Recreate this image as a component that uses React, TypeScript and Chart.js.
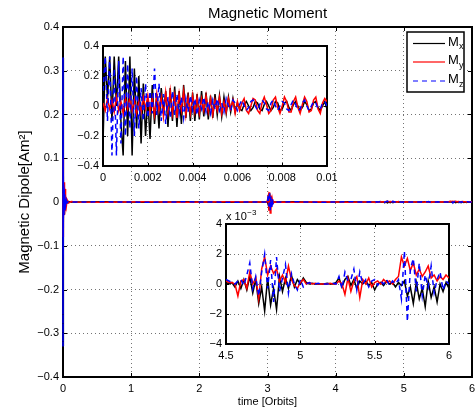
import { useEffect, useRef } from 'react';
import { Chart, registerables } from 'chart.js';

Chart.register(...registerables);

const FONT = '"Liberation Sans", Arial, Helvetica, sans-serif';
const GRID_COLOR = 'rgba(0,0,0,0.55)';

// ---------- Inset 1 : t = 0 .. 0.01 orbits, sampled every 0.0001 ----------
const INSET1_DT = 0.0001;
const INSET1_MX = [
  -0.25, 0.33, 0.05, 0.33, -0.1, 0.33, 0.0, 0.33, -0.1, -0.33,
  0.3, -0.2, 0.33, -0.33, 0.25, -0.15, 0.2, -0.25, 0.15, -0.2,
  0.05, -0.22, 0.14, -0.12, 0.08, -0.15, 0.12, -0.05, 0.1, -0.14,
  0.12, -0.1, 0.13, -0.14, 0.1, -0.12, 0.14, -0.08, 0.09, -0.1,
  0.09, -0.1, 0.08, -0.09, 0.1, -0.07, 0.09, -0.09, 0.07, -0.08,
  0.08, -0.06, 0.07, -0.07, 0.06, -0.05, 0.06, -0.04, 0.05, -0.04,
  0.02, -0.02, -0.03, 0.01, 0.03, 0.0, -0.03, -0.01, 0.03, 0.02,
  -0.02, -0.03, 0.01, 0.03, 0.0, -0.03, -0.01, 0.03, 0.02, -0.03,
  -0.02, 0.02, 0.03, -0.01, -0.03, 0.01, 0.03, 0.0, -0.03, -0.01,
  0.03, 0.01, -0.03, -0.02, 0.02, 0.03, -0.01, -0.03, 0.0, 0.03,
  -0.02,
];
const INSET1_MY = [
  0.02, -0.03, 0.05, -0.02, 0.04, -0.04, 0.06, -0.03, 0.03, -0.05,
  0.05, -0.02, 0.06, -0.03, 0.04, -0.05, 0.03, -0.04, 0.06, -0.02,
  0.07, -0.04, 0.05, -0.06, 0.08, -0.03, 0.06, -0.07, 0.09, -0.04,
  0.1, -0.05, 0.07, -0.08, 0.08, -0.03, 0.1, -0.06, 0.06, -0.05,
  0.07, -0.04, 0.06, -0.05, 0.05, -0.03, 0.07, -0.04, 0.05, -0.06,
  0.04, -0.03, 0.06, -0.05, 0.03, -0.04, 0.05, -0.02, 0.04, -0.05,
  0.03, -0.03, 0.02, 0.05, -0.03, -0.05, 0.0, 0.05, 0.04, -0.03,
  -0.05, 0.02, 0.06, 0.01, -0.05, -0.03, 0.04, 0.06, -0.01, -0.05,
  0.0, 0.06, 0.03, -0.04, -0.04, 0.03, 0.06, -0.01, -0.05, 0.01,
  0.06, 0.03, -0.04, -0.03, 0.04, 0.06, -0.02, -0.05, 0.02, 0.05,
  0.03,
];
const INSET1_MZ = [
  0.1, 0.33, -0.1, 0.33, -0.33, 0.25, -0.33, 0.3, -0.25, 0.33,
  -0.2, 0.28, -0.15, 0.25, -0.2, 0.2, -0.15, 0.12, -0.1, 0.15,
  -0.08, 0.1, -0.05, 0.25, -0.06, 0.15, -0.1, 0.08, -0.12, 0.06,
  -0.08, 0.1, -0.06, 0.08, -0.05, 0.06, -0.08, 0.05, -0.04, 0.07,
  -0.03, 0.05, -0.06, 0.04, -0.02, 0.06, -0.04, 0.03, -0.05, 0.04,
  -0.02, 0.05, -0.03, 0.02, -0.04, 0.05, 0.0, -0.03, 0.04, 0.02,
  -0.03, 0.01, 0.04, 0.0, -0.03, -0.01, 0.03, 0.04, 0.0, -0.03,
  0.01, 0.04, 0.02, -0.02, -0.03, 0.02, 0.04, 0.0, -0.03, 0.0,
  0.03, 0.02, -0.02, -0.03, 0.01, 0.04, 0.01, -0.03, -0.02, 0.02,
  0.04, 0.0, -0.03, 0.0, 0.03, 0.02, -0.02, -0.02, 0.02, 0.03,
  0.0,
];

// ---------- Main-only samples between the two insets ----------
const MAIN_T = [
  0.012, 0.015, 0.018, 0.022, 0.026, 0.03, 0.035, 0.04, 0.05, 0.06, 0.08, 0.12, 0.2,
  0.6, 1.2, 1.8, 2.4, 2.9,
  2.99, 3.0, 3.01, 3.02, 3.03, 3.04, 3.05, 3.06, 3.07, 3.08, 3.1,
  3.4, 3.8, 4.2, 4.4,
];
const MAIN_MX = [
  0.03, -0.025, 0.02, -0.02, 0.015, -0.01, 0.008, -0.005, 0.003, -0.002, 0.001, 0, 0,
  0.0005, -0.0005, 0.0005, -0.0005, 0,
  0, 0.002, -0.006, 0.008, -0.01, 0.006, -0.008, 0.004, -0.003, 0.001, 0,
  0.0005, -0.0005, 0.0005, 0,
];
const MAIN_MY = [
  -0.04, 0.045, -0.03, 0.04, -0.025, 0.03, -0.02, 0.015, -0.008, 0.005, -0.002, 0.001, 0,
  -0.0005, 0.0005, -0.0005, 0.0005, 0,
  0, 0.004, 0.012, -0.02, 0.022, -0.025, 0.015, -0.012, 0.006, -0.003, 0,
  -0.0005, 0.0005, -0.0005, 0,
];
const MAIN_MZ = [
  0.035, -0.03, 0.03, -0.02, 0.02, -0.015, 0.01, -0.006, 0.004, -0.002, 0.001, 0, 0,
  0.0005, -0.0005, 0.0005, -0.0005, 0,
  0, -0.003, 0.018, -0.01, 0.024, -0.02, 0.012, -0.015, 0.008, -0.004, 0,
  0.0005, -0.0005, 0.0005, 0,
];

// ---------- Inset 2 : t = 4.5 .. 6 orbits, every 0.02, values in 1e-3 ----------
const INSET2_T0 = 4.5;
const INSET2_DT = 0.02;
const INSET2_SCALE = 1e-3;
const INSET2_MX = [
  0.1, 0.0, 0.1, -0.2, 0.2, -0.3, 0.3, -0.4, 0.5, -0.6,
  0.3, -1.3, -0.2, -1.8, 0.4, -1.4, -0.3, -1.7, 0.5, -0.5,
  0.4, -0.3, 0.6, -0.2, 0.3, 0.0, 0.4, 0.1, 0.0, 0.05,
  0.0, 0.0, 0.0, 0.0, 0.05, 0.0, 0.0, 0.1, 0.4, -0.2,
  0.3, 0.5, -0.1, 0.3, -0.3, 0.2, 0.0, 0.2, -0.1, 0.1,
  -0.4, 0.0, 0.1, -0.1, 0.2, 0.0, 0.1, -0.2, 0.1, -0.1,
  0.2, -0.8, -0.2, -1.3, 0.1, -1.0, -0.3, -1.5, 0.2, -0.9,
  -0.2, -1.2, 0.0, -0.5, 0.1, -0.3,
];
const INSET2_MY = [
  0.2, 0.1, 0.1, 0.0, -0.8, 0.2, 0.3, -0.3, 0.8, 0.0,
  0.4, -1.0, 1.0, 1.8, 0.6, 1.2, 0.7, 1.0, 0.2, 0.6,
  0.1, 1.2, 0.3, -0.1, -0.3, 0.1, 0.3, 0.0, 0.1, 0.0,
  0.05, 0.0, 0.0, 0.0, 0.0, 0.05, 0.0, 0.0, 0.2, 0.0,
  -0.7, 0.4, -0.5, 0.2, 0.5, -0.9, 0.3, 0.0, 0.4, -0.2,
  0.1, 0.2, 0.0, 0.3, 0.1, 0.2, 0.0, 0.3, 0.5, 1.8,
  1.2, 1.7, 0.9, 1.4, 0.6, 1.0, 0.5, 0.8, 1.2, 0.4,
  0.6, 0.2, 0.5, 0.3, 0.6, 0.4,
];
const INSET2_MZ = [
  0.3, 0.2, 0.1, 0.0, 0.2, 0.3, -0.1, 0.6, 1.4, -0.3,
  0.5, -0.8, 0.8, 2.0, -0.3, 1.6, -1.2, 1.8, -0.5, 0.4,
  1.3, -0.6, 0.7, 0.0, -0.4, 0.3, -0.2, 0.0, 0.1, 0.0,
  0.0, 0.05, 0.0, 0.0, 0.0, 0.0, 0.05, 0.0, 0.5, -0.3,
  0.8, 0.2, 0.3, 1.0, -0.4, 0.8, 0.0, 0.3, -0.2, 0.2,
  0.3, -0.1, 0.2, 0.0, 0.3, -0.1, 0.2, 0.0, 0.3, -1.0,
  2.2, -2.5, 1.0, 1.7, -0.5, 1.4, -0.8, 0.6, -0.2, 1.2,
  -0.6, 0.3, 0.8, -0.4, 0.2, 0.0,
];

// ---------- Ticks ----------
const MAIN_X_TICKS = [0, 1, 2, 3, 4, 5, 6];
const MAIN_X_LABELS = ['0', '1', '2', '3', '4', '5', '6'];
const MAIN_Y_TICKS = [-0.4, -0.3, -0.2, -0.1, 0, 0.1, 0.2, 0.3, 0.4];
const MAIN_Y_LABELS = ['\u22120.4', '\u22120.3', '\u22120.2', '\u22120.1', '0', '0.1', '0.2', '0.3', '0.4'];
const INSET1_X_TICKS = [0, 0.002, 0.004, 0.006, 0.008, 0.01];
const INSET1_X_LABELS = ['0', '0.002', '0.004', '0.006', '0.008', '0.01'];
const INSET1_Y_TICKS = [-0.4, -0.2, 0, 0.2, 0.4];
const INSET1_Y_LABELS = ['\u22120.4', '\u22120.2', '0', '0.2', '0.4'];
const INSET2_X_TICKS = [4.5, 5, 5.5, 6];
const INSET2_X_LABELS = ['4.5', '5', '5.5', '6'];
const INSET2_Y_TICKS = [-4, -2, 0, 2, 4];
const INSET2_Y_LABELS = ['\u22124', '\u22122', '0', '2', '4'];

const SERIES_NAMES = ['x', 'y', 'z'];
const SERIES_COLORS = ['#000000', '#ff0000', '#0000ff'];
const SERIES_DASH: number[][] = [[], [], [5, 4]];

// ---------- point builders ----------
const inset1Points = (vals: number[]) => vals.map((v, i) => ({ x: i * INSET1_DT, y: v }));
const inset2Points = (vals: number[], scale: number) =>
  vals.map((v, i) => ({ x: INSET2_T0 + i * INSET2_DT, y: v * scale }));
const mainPoints = (a: number[], b: number[], c: number[]) => [
  ...inset1Points(a),
  ...MAIN_T.map((t, i) => ({ x: t, y: b[i] })),
  ...inset2Points(c, INSET2_SCALE),
];

function axis(o: {
  min: number; max: number; ticks: number[]; labels: string[];
  horizontal: boolean; size: number; pad: number; title?: any;
}) {
  return {
    type: 'linear',
    min: o.min,
    max: o.max,
    afterBuildTicks: (s: any) => {
      s.ticks = o.ticks.map((v) => ({ value: v }));
    },
    afterFit: (s: any) => {
      if (o.horizontal) s.height = o.size;
      else s.width = o.size;
      s.paddingLeft = 0;
      s.paddingRight = 0;
      s.paddingTop = 0;
      s.paddingBottom = 0;
    },
    ticks: {
      callback: (_v: any, i: number) => o.labels[i],
      padding: o.pad,
      autoSkip: false,
      maxRotation: 0,
      minRotation: 0,
      color: '#000',
      font: { family: FONT, size: 11 },
    },
    grid: { drawTicks: false, color: GRID_COLOR, lineWidth: 1, borderDash: [1, 3] },
    border: { display: false, dash: [1, 3] },
    title: o.title || { display: false },
  };
}

function framePlugin(tickLen: number, lw: number) {
  return {
    id: 'frame',
    beforeDatasetsDraw(chart: any) {
      const { ctx, chartArea: a, scales } = chart;
      ctx.save();
      ctx.strokeStyle = '#000';
      ctx.lineWidth = 1;
      ctx.beginPath();
      for (const t of scales.x.ticks) {
        const px = Math.round(scales.x.getPixelForValue(t.value)) + 0.5;
        ctx.moveTo(px, a.bottom);
        ctx.lineTo(px, a.bottom - tickLen);
        ctx.moveTo(px, a.top);
        ctx.lineTo(px, a.top + tickLen);
      }
      for (const t of scales.y.ticks) {
        const py = Math.round(scales.y.getPixelForValue(t.value)) + 0.5;
        ctx.moveTo(a.left, py);
        ctx.lineTo(a.left + tickLen, py);
        ctx.moveTo(a.right, py);
        ctx.lineTo(a.right - tickLen, py);
      }
      ctx.stroke();
      ctx.lineWidth = lw;
      ctx.strokeRect(Math.round(a.left), Math.round(a.top), Math.round(a.right - a.left), Math.round(a.bottom - a.top));
      ctx.restore();
    },
  };
}

const whiteAreaPlugin = {
  id: 'whiteArea',
  beforeDraw(chart: any) {
    const { ctx, chartArea: a } = chart;
    ctx.save();
    ctx.fillStyle = '#fff';
    ctx.fillRect(a.left, a.top, a.right - a.left, a.bottom - a.top);
    ctx.restore();
  },
};

const titleAndLegendPlugin = {
  id: 'titleLegend',
  afterDraw(chart: any) {
    const { ctx, chartArea: a } = chart;
    ctx.save();
    ctx.fillStyle = '#000';
    ctx.font = `15px ${FONT}`;
    ctx.textAlign = 'center';
    ctx.textBaseline = 'middle';
    ctx.fillText('Magnetic Moment', (a.left + a.right) / 2, 13.5);

    // legend box
    const lx = 407, ly = 32, lw = 57, lh = 60;
    ctx.fillStyle = '#fff';
    ctx.fillRect(lx, ly, lw, lh);
    ctx.strokeStyle = '#000';
    ctx.lineWidth = 1.5;
    ctx.strokeRect(lx, ly, lw, lh);
    const rows = [43.5, 62, 81];
    SERIES_NAMES.forEach((n, i) => {
      const y = rows[i];
      ctx.strokeStyle = SERIES_COLORS[i];
      ctx.lineWidth = 1.2;
      ctx.setLineDash(SERIES_DASH[i]);
      ctx.beginPath();
      ctx.moveTo(413, y);
      ctx.lineTo(445, y);
      ctx.stroke();
      ctx.setLineDash([]);
      ctx.fillStyle = '#000';
      ctx.textAlign = 'left';
      ctx.textBaseline = 'alphabetic';
      ctx.font = `13px ${FONT}`;
      ctx.fillText('M', 448, y + 2);
      ctx.font = `9px ${FONT}`;
      ctx.fillText(n, 459, y + 5.5);
    });
    ctx.restore();
  },
};

const exponentPlugin = {
  id: 'exponent',
  afterDraw(chart: any) {
    const { ctx, chartArea: a } = chart;
    ctx.save();
    ctx.fillStyle = '#000';
    ctx.textAlign = 'left';
    ctx.textBaseline = 'alphabetic';
    ctx.font = `11px ${FONT}`;
    const base = 'x 10';
    ctx.fillText(base, a.left, a.top - 4);
    const w = ctx.measureText(base).width;
    ctx.font = `8px ${FONT}`;
    ctx.fillText('\u22123', a.left + w + 0.5, a.top - 9);
    ctx.restore();
  },
};

// Mz drawn on top, then My, then Mx (MATLAB plotting order)
const SERIES_ORDER = [2, 1, 0];

function datasets(sets: { x: number; y: number }[][], clip: any) {
  return sets.map((d, i) => ({
    label: 'M' + SERIES_NAMES[i],
    data: d,
    order: SERIES_ORDER[i],
    borderColor: SERIES_COLORS[i],
    borderWidth: 1.5,
    borderDash: SERIES_DASH[i],
    pointRadius: 0,
    tension: 0,
    fill: false,
    clip,
  }));
}

const commonOptions = {
  responsive: false,
  animation: false,
  events: [],
  plugins: {
    legend: { display: false },
    title: { display: false },
    tooltip: { enabled: false },
  },
};

function mainConfig(): any {
  return {
    type: 'line',
    data: {
      datasets: datasets([
        mainPoints(INSET1_MX, MAIN_MX, INSET2_MX),
        mainPoints(INSET1_MY, MAIN_MY, INSET2_MY),
        mainPoints(INSET1_MZ, MAIN_MZ, INSET2_MZ),
      ], { left: 2, right: 0, top: 0, bottom: 0 }),
    },
    options: {
      ...commonOptions,
      layout: { padding: { left: 0, right: 4, top: 27, bottom: 0 } },
      scales: {
        x: axis({
          min: 0, max: 6, ticks: MAIN_X_TICKS, labels: MAIN_X_LABELS,
          horizontal: true, size: 35, pad: 5,
          title: {
            display: true, text: 'time [Orbits]', color: '#000',
            font: { family: FONT, size: 11 }, padding: { top: 0, bottom: 3 },
          },
        }),
        y: axis({
          min: -0.4, max: 0.4, ticks: MAIN_Y_TICKS, labels: MAIN_Y_LABELS,
          horizontal: false, size: 63, pad: 4,
          title: {
            display: true, text: 'Magnetic Dipole[Am\u00b2]', color: '#000',
            font: { family: FONT, size: 15 }, padding: { top: 16, bottom: 0 },
          },
        }),
      },
    },
    plugins: [framePlugin(4, 2), titleAndLegendPlugin],
  };
}

function inset1Config(): any {
  return {
    type: 'line',
    data: {
      datasets: datasets([
        inset1Points(INSET1_MX),
        inset1Points(INSET1_MY),
        inset1Points(INSET1_MZ),
      ], 0),
    },
    options: {
      ...commonOptions,
      layout: { padding: { left: 63, right: 149, top: 46, bottom: 226 } },
      scales: {
        x: axis({
          min: 0, max: 0.01, ticks: INSET1_X_TICKS, labels: INSET1_X_LABELS,
          horizontal: true, size: 20, pad: 5,
        }),
        y: axis({
          min: -0.4, max: 0.4, ticks: INSET1_Y_TICKS, labels: INSET1_Y_LABELS,
          horizontal: false, size: 40, pad: 4,
        }),
      },
    },
    plugins: [whiteAreaPlugin, framePlugin(3, 2)],
  };
}

function inset2Config(): any {
  return {
    type: 'line',
    data: {
      datasets: datasets([
        inset2Points(INSET2_MX, 1),
        inset2Points(INSET2_MY, 1),
        inset2Points(INSET2_MZ, 1),
      ], 0),
    },
    options: {
      ...commonOptions,
      layout: { padding: { left: 186, right: 27, top: 224, bottom: 48 } },
      scales: {
        x: axis({
          min: 4.5, max: 6, ticks: INSET2_X_TICKS, labels: INSET2_X_LABELS,
          horizontal: true, size: 20, pad: 5,
        }),
        y: axis({
          min: -4, max: 4, ticks: INSET2_Y_TICKS, labels: INSET2_Y_LABELS,
          horizontal: false, size: 40, pad: 4,
        }),
      },
    },
    plugins: [whiteAreaPlugin, framePlugin(3, 2), exponentPlugin],
  };
}

export default function App() {
  const mainRef = useRef<HTMLCanvasElement>(null);
  const in1Ref = useRef<HTMLCanvasElement>(null);
  const in2Ref = useRef<HTMLCanvasElement>(null);

  useEffect(() => {
    document.body.style.margin = '0';
    const charts = [
      new Chart(mainRef.current!, mainConfig()),
      new Chart(in1Ref.current!, inset1Config()),
      new Chart(in2Ref.current!, inset2Config()),
    ];
    return () => charts.forEach((c) => c.destroy());
  }, []);

  const cs: any = { position: 'absolute', left: 0, top: 0, pointerEvents: 'none' };
  return (
    <div style={{ position: 'relative', width: 476, height: 412, background: '#fff', overflow: 'hidden' }}>
      <canvas ref={mainRef} width={476} height={412} style={cs} />
      <canvas ref={in1Ref} width={476} height={412} style={cs} />
      <canvas ref={in2Ref} width={476} height={412} style={cs} />
    </div>
  );
}
